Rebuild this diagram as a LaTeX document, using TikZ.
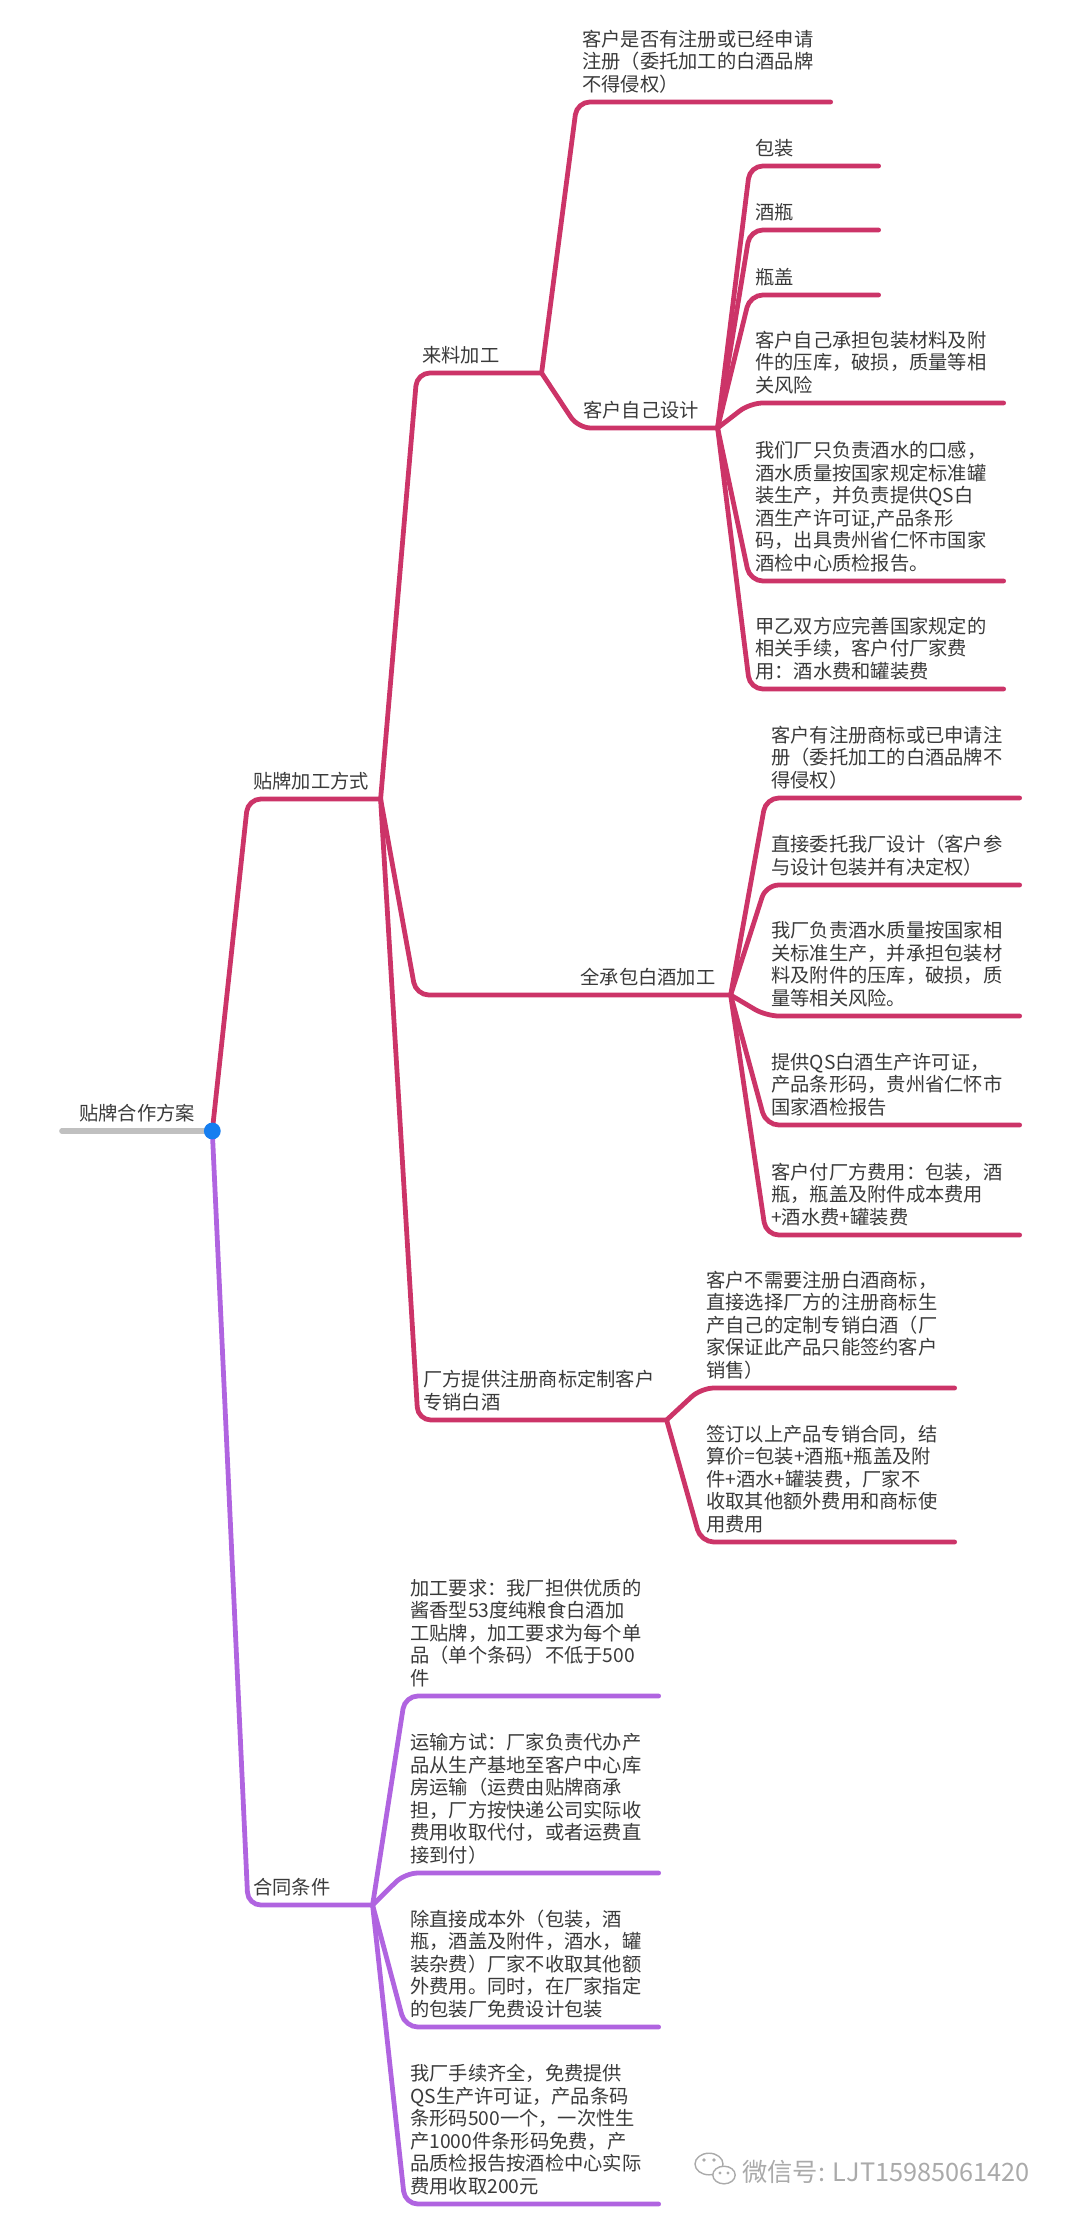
\documentclass[tikz,border=0pt]{standalone}
\usepackage{fontspec}
\setmainfont{Noto Sans CJK SC}
\usepackage{tikz}
\usetikzlibrary{positioning}

\definecolor{brandpink}{RGB}{204,52,104}
\definecolor{termpurple}{RGB}{176,100,224}
\definecolor{textgray}{RGB}{58,58,58}
\definecolor{rootgray}{RGB}{192,192,192}
\definecolor{dotblue}{RGB}{22,126,240}
\definecolor{markgray}{RGB}{170,170,170}

\begin{document}
\begin{tikzpicture}[
        x=0.025cm, y=-0.025cm,
        topic/.style={anchor=south west, align=left, text=textgray, inner xsep=0.125cm, inner ysep=0.22cm, font=\fontsize{13.7pt}{16pt}\selectfont},
        leaf/.style={topic, text width=6.075cm},
        tag/.style={topic, text width=2.95cm},
        pinkline/.style={draw=brandpink, line width=3.4pt, line cap=round, rounded corners=0.32cm},
        purpleline/.style={draw=termpurple, line width=3.4pt, line cap=round, rounded corners=0.32cm}
    ]
    \useasboundingbox (0,0) rectangle (1080,2220);

    % root and main branches
    \node[topic, anchor=south, align=center, text width=3.5cm] (root) at (137,1131) {贴牌合作方案};
    \node[topic, text width=3.05cm] (way) at (248,799) {贴牌加工方式};
    \node[topic, text width=2.85cm] (terms) at (248,1905) {合同条件};

    % ways of processing
    \node[topic, text width=2.85cm] (feed) at (417,373) {来料加工};
    \node[topic, text width=7.6cm, align=right] (full) at (416,995) {全承包白酒加工\hspace*{0.25cm}};
    \node[topic, text width=5.95cm] (own) at (418,1420) {厂方提供注册商标定制客户\\专销白酒};

    % supplied materials
    \node[leaf] (reg) at (577,102) {客户是否有注册或已经申请\\注册（委托加工的白酒品牌\\不得侵权）};
    \node[topic, text width=3.225cm] (design) at (578,428) {客户自己设计};
    \node[tag] (pack) at (750,166) {包装};
    \node[tag] (bottle) at (750,230) {酒瓶};
    \node[tag] (cap) at (750,295) {瓶盖};
    \node[leaf] (risk) at (750,403) {客户自己承担包装材料及附\\件的压库，破损，质量等相\\关风险};
    \node[leaf] (taste) at (750,581) {我们厂只负责酒水的口感，\\酒水质量按国家规定标准罐\\装生产，并负责提供QS白\\酒生产许可证,产品条形\\码，出具贵州省仁怀市国家\\酒检中心质检报告。};
    \node[leaf] (fee) at (750,689) {甲乙双方应完善国家规定的\\相关手续，客户付厂家费\\用：酒水费和罐装费};

    % full contract
    \node[leaf] (freg) at (766,798) {客户有注册商标或已申请注\\册（委托加工的白酒品牌不\\得侵权）};
    \node[leaf] (fdesign) at (766,885) {直接委托我厂设计（客户参\\与设计包装并有决定权）};
    \node[leaf] (frisk) at (766,1016) {我厂负责酒水质量按国家相\\关标准生产，并承担包装材\\料及附件的压库，破损，质\\量等相关风险。};
    \node[leaf] (fqs) at (766,1125) {提供QS白酒生产许可证，\\产品条形码，贵州省仁怀市\\国家酒检报告};
    \node[leaf] (ffee) at (766,1235) {客户付厂方费用：包装，酒\\瓶，瓶盖及附件成本费用\\+酒水费+罐装费};

    % factory brand
    \node[leaf] (onoreg) at (701,1388) {客户不需要注册白酒商标，\\直接选择厂方的注册商标生\\产自己的定制专销白酒（厂\\家保证此产品只能签约客户\\销售）};
    \node[leaf] (oprice) at (701,1542) {签订以上产品专销合同，结\\算价=包装+酒瓶+瓶盖及附\\件+酒水+罐装费，厂家不\\收取其他额外费用和商标使\\用费用};

    % contract terms
    \node[leaf] (req) at (405,1696) {加工要求：我厂担供优质的\\酱香型53度纯粮食白酒加\\工贴牌，加工要求为每个单\\品（单个条码）不低于500\\件};
    \node[leaf] (ship) at (405,1873) {运输方试：厂家负责代办产\\品从生产基地至客户中心库\\房运输（运费由贴牌商承\\担，厂方按快递公司实际收\\费用收取代付，或者运费直\\接到付）};
    \node[leaf] (cost) at (405,2027) {除直接成本外（包装，酒\\瓶，酒盖及附件，酒水，罐\\装杂费）厂家不收取其他额\\外费用。同时，在厂家指定\\的包装厂免费设计包装};
    \node[leaf] (cert) at (405,2204) {我厂手续齐全，免费提供\\QS生产许可证，产品条码\\条形码500一个，一次性生\\产1000件条形码免费，产\\品质检报告按酒检中心实际\\费用收取200元};

    % branch lines
    \draw[rootgray, line width=3.6pt, line cap=round] (root.south west) -- (root.south east);
    \draw[pinkline] (root.south east) -- (way.south west) -- (way.south east);
    \draw[purpleline] (root.south east) -- (terms.south west) -- (terms.south east);

    \draw[pinkline] (way.south east) -- (feed.south west) -- (feed.south east);
    \draw[pinkline] (way.south east) -- (full.south west) -- (full.south east);
    \draw[pinkline] (way.south east) -- (own.south west) -- (own.south east);

    \draw[pinkline] (feed.south east) -- (reg.south west) -- (reg.south east);
    \draw[pinkline] (feed.south east) -- (design.south west) -- (design.south east);
    \draw[pinkline] (design.south east) -- (pack.south west) -- (pack.south east);
    \draw[pinkline] (design.south east) -- (bottle.south west) -- (bottle.south east);
    \draw[pinkline] (design.south east) -- (cap.south west) -- (cap.south east);
    \draw[pinkline] (design.south east) -- (risk.south west) -- (risk.south east);
    \draw[pinkline] (design.south east) -- (taste.south west) -- (taste.south east);
    \draw[pinkline] (design.south east) -- (fee.south west) -- (fee.south east);

    \draw[pinkline] (full.south east) -- (freg.south west) -- (freg.south east);
    \draw[pinkline] (full.south east) -- (fdesign.south west) -- (fdesign.south east);
    \draw[pinkline] (full.south east) -- (frisk.south west) -- (frisk.south east);
    \draw[pinkline] (full.south east) -- (fqs.south west) -- (fqs.south east);
    \draw[pinkline] (full.south east) -- (ffee.south west) -- (ffee.south east);

    \draw[pinkline] (own.south east) -- (onoreg.south west) -- (onoreg.south east);
    \draw[pinkline] (own.south east) -- (oprice.south west) -- (oprice.south east);

    \draw[purpleline] (terms.south east) -- (req.south west) -- (req.south east);
    \draw[purpleline] (terms.south east) -- (ship.south west) -- (ship.south east);
    \draw[purpleline] (terms.south east) -- (cost.south west) -- (cost.south east);
    \draw[purpleline] (terms.south east) -- (cert.south west) -- (cert.south east);

    \fill[dotblue] (root.south east) circle (0.21cm);

    % watermark
    \draw[markgray, line width=1pt] (709,2164) ellipse [x radius=0.35cm, y radius=0.27cm];
    \draw[markgray, line width=1pt, fill=white] (724,2175) ellipse [x radius=0.28cm, y radius=0.22cm];
    \fill[markgray] (704,2160) circle (0.045cm) (714,2160) circle (0.045cm) (720,2173) circle (0.04cm) (728,2173) circle (0.04cm);
    \node[anchor=west, inner sep=0pt, text=markgray, font=\fontsize{18pt}{18pt}\selectfont] (mark) at (742,2172) {微信号: LJT15985061420};
\end{tikzpicture}
\end{document}
